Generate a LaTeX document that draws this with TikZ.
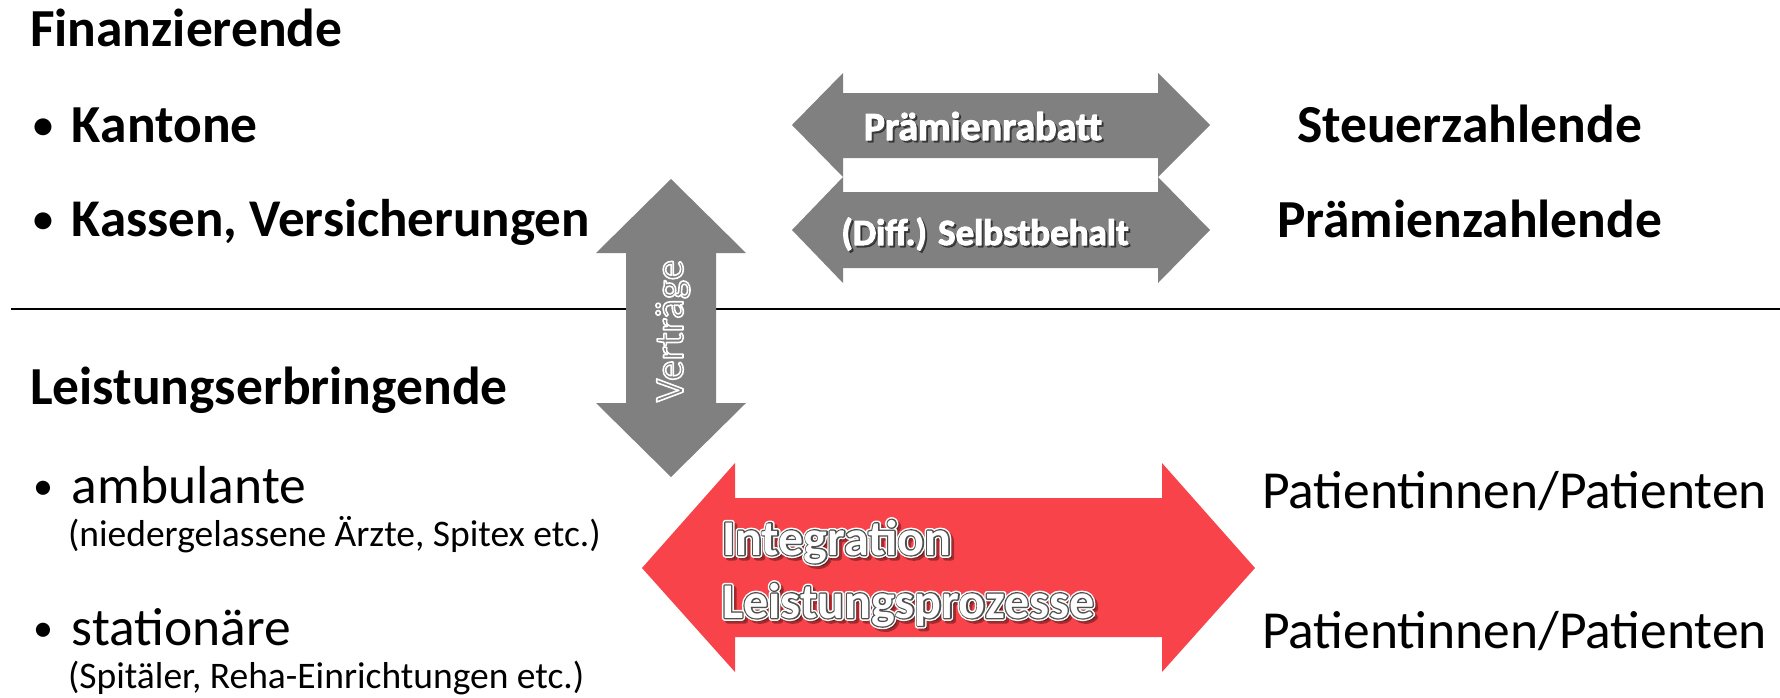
\documentclass[tikz,border=0pt]{standalone}
\usepackage{fontspec}
\setmainfont{Carlito}
\usetikzlibrary{calc}
\definecolor{arrgray}{RGB}{128,128,128}
\definecolor{arrred}{RGB}{249,67,74}
\definecolor{outl}{RGB}{80,80,80}
\newcommand\fs[1]{\fontsize{#1}{#1}\selectfont}
\newcommand\bul{\makebox[43pt][l]{\hspace{4pt}\raisebox{4pt}{\fs{40}•}}}
% text drawn with fill (current colour) and an outline stroke: #1 stroke rgb, #2 width, #3 text
\newcommand\stroked[3]{\special{pdf:literal direct #1 RG #2 w 1 j 2 Tr}#3\special{pdf:literal direct 0 Tr}}
\begin{document}
\begin{tikzpicture}[x=1pt,y=-1pt,
  txt/.style={inner sep=0pt, outer sep=0pt, anchor=base west, text=black},
  ftxt/.style={inner sep=0pt, outer sep=0pt},
  graybody/.style={fill=arrgray, draw=none},
  redbody/.style={fill=arrred, draw=none}]
\useasboundingbox (0,0) rectangle (1780,697);
\fill[white] (0,0) rectangle (1780,697);

% separator line
\coordinate (sepL) at (11,309);
\coordinate (sepR) at (1780,309);
\draw[line width=2.5pt, black] (sepL) -- (sepR);

% left texts
\node[txt] (fin) at (30,46) {\fs{53.5}\bfseries Finanzierende};
\node[txt] (kant) at (29,142) {\fs{53.5}\bfseries\bul Kantone};
\node[txt] (kass) at (29,236) {\fs{53}\bfseries\bul Kassen, Versicherungen};
\node[txt] (leist) at (30,404) {\fs{53.5}\bfseries Leistungserbringende};
\node[txt] (amb) at (29,503) {\fs{53.5}\bul ambulante};
\node[txt] (ambsub) at (68,546) {\fs{37.5}(niedergelassene Ärzte, Spitex etc.)};
\node[txt] (stat) at (29,645) {\fs{53.5}\bul stationäre};
\node[txt] (statsub) at (68,688) {\fs{37.5}(Spitäler, Reha-Einrichtungen etc.)};

% right texts
\node[txt] (steuer) at (1297,142) {\fs{53.5}\bfseries Steuerzahlende};
\node[txt] (praem) at (1277,237) {\fs{53.5}\bfseries Prämienzahlende};
\node[txt] (pat1) at (1262,508) {\fs{53.5}Patientinnen/Patienten};
\node[txt] (pat2) at (1262,648) {\fs{53.5}Patientinnen/Patienten};

% gray double arrows
\fill[graybody] (792,125) -- (843,73) -- (843,93) -- (1158,93) -- (1158,73) -- (1210,125)
  -- (1158,177) -- (1158,158) -- (843,158) -- (843,177) -- cycle;
\fill[graybody] (792,230) -- (843,177) -- (843,192) -- (1158,192) -- (1158,177) -- (1210,230)
  -- (1158,283) -- (1158,268) -- (843,268) -- (843,283) -- cycle;
\coordinate (prp) at (983,140);
\coordinate (sbp) at (985,245);
\node[ftxt, anchor=base, text=black, opacity=0.45] (praemrab-sh) at ($(prp)+(2pt,-2pt)$)
  {\fs{40}\bfseries\stroked{0 0 0}{1.0}{Prämienrabatt}};
\node[ftxt, anchor=base, text=white] (praemrab) at (prp)
  {\fs{40}\bfseries\stroked{1 1 1}{1.0}{Prämienrabatt}};
\node[ftxt, anchor=base, text=black, opacity=0.45] (selbst-sh) at ($(sbp)+(2pt,-2pt)$)
  {\fs{37}\bfseries\stroked{0 0 0}{1.0}{(Diff.) Selbstbehalt}};
\node[ftxt, anchor=base, text=white] (selbst) at (sbp)
  {\fs{37}\bfseries\stroked{1 1 1}{1.0}{(Diff.) Selbstbehalt}};

% vertical arrow
\fill[graybody] (671,179) -- (746,253) -- (716,253) -- (716,403) -- (746,403) -- (671,477)
  -- (596,403) -- (626,403) -- (626,253) -- (596,253) -- cycle;
\node[ftxt, rotate=90, text=arrgray] (vertraege) at (673,331)
  {\fs{41}\stroked{1 1 1}{1.6}{Verträge}};

% red double arrow
\fill[redbody] (642,568) -- (735,463) -- (735,498) -- (1162,498) -- (1162,463) -- (1255,568)
  -- (1162,672) -- (1162,637) -- (735,637) -- (735,672) -- cycle;
\coordinate (int1) at (722,555);
\coordinate (int2) at (722,618);
\foreach \p/\n/\t in {int1/integ/Integration, int2/lproz/Leistungsprozesse}{
  \node[ftxt, anchor=base west, text=black, opacity=0.35] (\n-sh) at ($(\p)+(3pt,-3pt)$)
    {\fs{50}\bfseries\stroked{0 0 0}{5}{\t}};
  \node[ftxt, anchor=base west, text=white] (\n-halo) at (\p)
    {\fs{50}\bfseries\stroked{1 1 1}{5.5}{\t}};
  \node[ftxt, anchor=base west, text=outl] (\n-line) at (\p)
    {\fs{50}\bfseries\stroked{0.31 0.31 0.31}{2.6}{\t}};
  \node[ftxt, anchor=base west, text=white] (\n) at (\p)
    {\fs{50}\bfseries \t};
}
\end{tikzpicture}
\end{document}
